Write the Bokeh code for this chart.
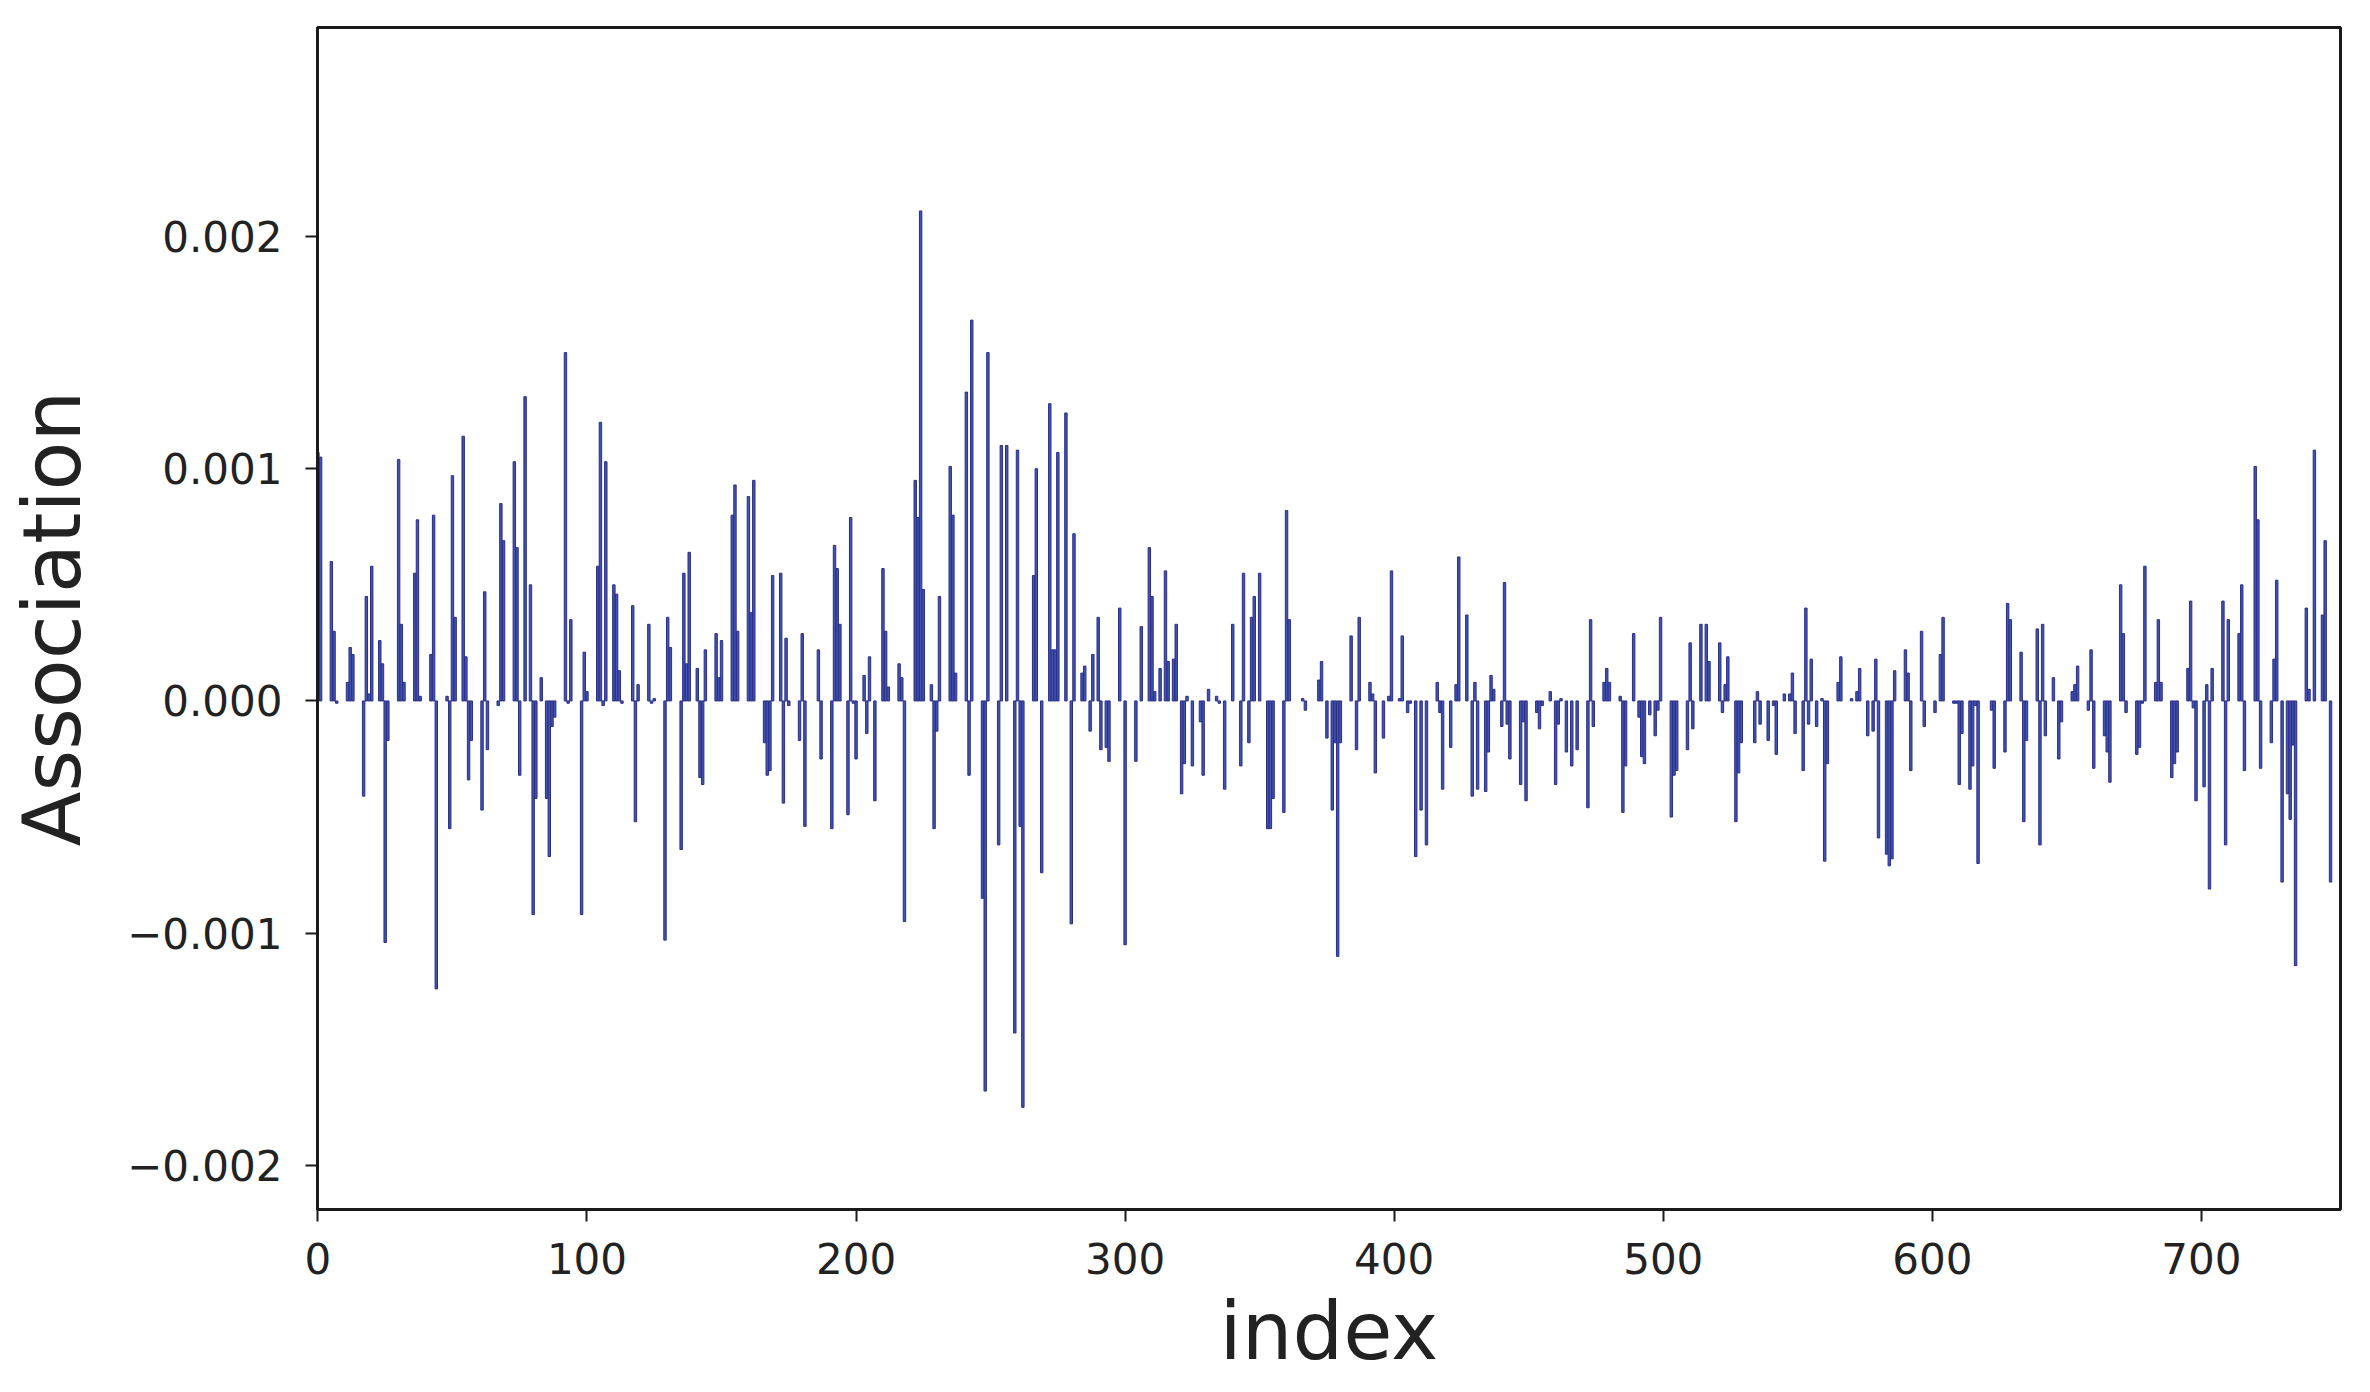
from bokeh.plotting import figure
from bokeh.models import Range1d, FixedTicker, CustomJSTickFormatter
from bokeh.embed import file_html
from bokeh.resources import INLINE

# index of each visible bar and its association value
bar_index = [
    0, 1, 5, 6, 7, 11, 12, 13, 17, 18, 19, 20, 23, 24, 25, 26, 30, 31, 32, 36, 37, 38,
    42, 43, 44, 48, 49, 50, 51, 54, 55, 56, 57, 61, 62, 63, 67, 68, 69, 73, 74, 75, 77,
    79, 80, 81, 83, 85, 86, 87, 88, 92, 93, 94, 98, 99, 100, 104, 105, 106, 107, 110,
    111, 112, 113, 117, 118, 119, 123, 124, 125, 129, 130, 131, 135, 136, 137, 138, 141,
    142, 143, 144, 148, 149, 150, 154, 155, 156, 160, 161, 162, 166, 167, 168, 169, 172,
    173, 174, 175, 179, 180, 181, 186, 187, 191, 192, 193, 194, 197, 198, 199, 200, 203,
    204, 205, 207, 210, 211, 212, 216, 217, 218, 222, 223, 224, 225, 228, 229, 230, 231,
    235, 236, 237, 241, 242, 243, 247, 248, 249, 253, 254, 256, 259, 260, 261, 262, 266,
    267, 269, 272, 273, 274, 275, 278, 280, 281, 284, 285, 287, 288, 290, 291, 293, 294,
    298, 300, 304, 306, 309, 310, 311, 313, 315, 316, 318, 319, 321, 322, 323, 325, 328,
    329, 331, 334, 335, 337, 340, 343, 344, 346, 347, 348, 350, 353, 354, 355, 359, 360,
    361, 366, 367, 372, 373, 375, 377, 378, 379, 380, 384, 386, 387, 391, 392, 393, 396,
    398, 399, 402, 403, 405, 406, 408, 410, 412, 416, 417, 418, 421, 423, 424, 427, 429,
    430, 431, 434, 435, 436, 437, 440, 441, 442, 443, 447, 448, 449, 453, 454, 455, 458,
    460, 461, 462, 464, 466, 468, 472, 473, 474, 478, 479, 480, 484, 485, 486, 489, 491,
    492, 493, 495, 497, 498, 499, 503, 504, 505, 509, 510, 511, 514, 516, 517, 521, 522,
    523, 524, 527, 528, 529, 534, 535, 536, 539, 541, 542, 545, 547, 548, 549, 552, 553,
    554, 555, 557, 559, 560, 561, 565, 566, 570, 572, 573, 576, 578, 579, 580, 583, 584,
    585, 586, 590, 591, 592, 596, 597, 601, 603, 604, 608, 609, 610, 611, 614, 615, 616,
    617, 622, 623, 627, 628, 629, 633, 634, 635, 639, 640, 641, 642, 645, 647, 648, 652,
    653, 654, 658, 659, 660, 664, 665, 666, 670, 671, 672, 676, 677, 678, 679, 683, 684,
    685, 689, 690, 691, 695, 696, 697, 698, 701, 702, 703, 704, 708, 709, 710, 714, 715,
    716, 720, 721, 722, 726, 727, 728, 730, 732, 733, 734, 735, 739, 740, 742, 745, 746,
    748,
]
bar_value = [
    0.00107, 0.00105, 0.00060, 0.00030, -0.00001, 0.00008, 0.00023, 0.00020, -0.00041,
    0.00045, 0.00003, 0.00058, 0.00026, 0.00016, -0.00104, -0.00017, 0.00104, 0.00033,
    0.00008, 0.00055, 0.00078, 0.00002, 0.00020, 0.00080, -0.00124, 0.00002, -0.00055,
    0.00097, 0.00036, 0.00114, 0.00019, -0.00034, -0.00017, -0.00047, 0.00047, -0.00021,
    -0.00002, 0.00085, 0.00069, 0.00103, 0.00066, -0.00032, 0.00131, 0.00050, -0.00092,
    -0.00042, 0.00010, -0.00042, -0.00067, -0.00011, -0.00007, 0.00150, -0.00001, 0.00035,
    -0.00092, 0.00021, 0.00004, 0.00058, 0.00120, -0.00002, 0.00103, 0.00050, 0.00046,
    0.00013, -0.00001, 0.00041, -0.00052, 0.00007, 0.00033, -0.00001, 0.00001, -0.00103,
    0.00036, 0.00023, -0.00064, 0.00055, 0.00016, 0.00064, 0.00014, -0.00033, -0.00036,
    0.00022, 0.00029, 0.00010, 0.00026, 0.00080, 0.00093, 0.00030, 0.00088, 0.00038,
    0.00095, -0.00018, -0.00032, -0.00030, 0.00054, 0.00055, -0.00044, 0.00027, -0.00002,
    -0.00017, 0.00029, -0.00054, 0.00022, -0.00025, -0.00055, 0.00067, 0.00057, 0.00033,
    -0.00049, 0.00079, -0.00001, -0.00025, 0.00011, -0.00014, 0.00019, -0.00043, 0.00057,
    0.00030, 0.00006, 0.00016, 0.00010, -0.00095, 0.00095, 0.00079, 0.00211, 0.00048,
    0.00007, -0.00055, -0.00013, 0.00045, 0.00101, 0.00080, 0.00012, 0.00133, -0.00032,
    0.00164, -0.00085, -0.00168, 0.00150, -0.00062, 0.00110, 0.00110, -0.00143, 0.00108,
    -0.00054, -0.00175, 0.00054, 0.00100, -0.00074, 0.00128, 0.00022, 0.00022, 0.00107,
    0.00124, -0.00096, 0.00072, 0.00012, 0.00015, -0.00013, 0.00020, 0.00036, -0.00021,
    -0.00020, -0.00026, 0.00040, -0.00105, -0.00026, 0.00032, 0.00066, 0.00045, 0.00004,
    0.00014, 0.00056, 0.00017, 0.00018, 0.00033, -0.00040, -0.00027, 0.00002, -0.00028,
    -0.00009, -0.00032, 0.00005, 0.00002, -0.00001, -0.00038, 0.00033, -0.00028, 0.00055,
    -0.00018, 0.00036, 0.00045, 0.00055, -0.00055, -0.00055, -0.00042, -0.00048, 0.00082,
    0.00035, 0.00001, -0.00004, 0.00009, 0.00017, -0.00016, -0.00047, -0.00018, -0.00110,
    -0.00018, 0.00028, -0.00021, 0.00036, 0.00008, 0.00003, -0.00031, -0.00016, 0.00002,
    0.00056, 0.00001, 0.00028, -0.00005, -0.00001, -0.00067, -0.00047, -0.00062, 0.00008,
    -0.00005, -0.00038, -0.00020, 0.00007, 0.00062, 0.00037, -0.00041, 0.00008, -0.00038,
    -0.00039, -0.00022, 0.00011, 0.00005, -0.00011, 0.00051, -0.00010, -0.00025, -0.00036,
    -0.00009, -0.00043, -0.00005, -0.00012, -0.00002, 0.00004, -0.00036, -0.00010, 0.00001,
    -0.00022, -0.00028, -0.00021, -0.00046, 0.00035, -0.00011, 0.00008, 0.00014, 0.00008,
    0.00002, -0.00048, -0.00028, 0.00029, -0.00007, -0.00024, -0.00027, -0.00006, -0.00015,
    -0.00004, 0.00036, -0.00050, -0.00032, -0.00030, -0.00021, 0.00025, -0.00012, 0.00033,
    0.00033, 0.00017, 0.00025, -0.00005, 0.00007, 0.00019, -0.00052, -0.00031, -0.00018,
    -0.00018, 0.00004, -0.00010, -0.00017, -0.00002, -0.00023, 0.00003, 0.00003, 0.00012,
    -0.00014, -0.00030, 0.00040, -0.00010, 0.00018, -0.00011, 0.00001, -0.00069, -0.00027,
    0.00008, 0.00019, 0.00001, 0.00004, 0.00014, -0.00015, -0.00013, 0.00018, -0.00059,
    -0.00066, -0.00071, -0.00068, 0.00013, 0.00022, 0.00012, -0.00030, 0.00030, -0.00011,
    -0.00005, 0.00020, 0.00036, -0.00001, -0.00001, -0.00036, -0.00014, -0.00038, -0.00028,
    -0.00002, -0.00070, -0.00004, -0.00029, -0.00022, 0.00042, 0.00035, 0.00021, -0.00052,
    -0.00017, 0.00031, -0.00062, 0.00033, -0.00015, 0.00010, -0.00025, -0.00009, 0.00004,
    0.00007, 0.00015, -0.00004, 0.00022, -0.00029, -0.00015, -0.00022, -0.00035, 0.00050,
    0.00029, -0.00005, -0.00023, -0.00020, -0.00001, 0.00058, 0.00008, 0.00035, 0.00008,
    -0.00033, -0.00027, -0.00022, 0.00014, 0.00043, -0.00003, -0.00043, -0.00037, 0.00007,
    -0.00081, 0.00014, 0.00043, -0.00062, 0.00035, 0.00029, 0.00050, -0.00030, 0.00101,
    0.00078, -0.00029, -0.00018, 0.00018, 0.00052, -0.00078, -0.00040, -0.00051, -0.00019,
    -0.00114, 0.00040, 0.00005, 0.00108, 0.00037, 0.00069, -0.00078,
]

y_ticks = [-0.002, -0.001, 0.0, 0.001, 0.002]
x_ticks = [0, 100, 200, 300, 400, 500, 600, 700]

FONT = "DejaVu Sans"

p = figure(
    width=2362, height=1384,
    output_backend="svg", toolbar_location=None,
    x_range=Range1d(-0.15, 751.7), y_range=Range1d(-0.00219, 0.0029),
    min_border_left=317, min_border_right=22, min_border_top=27, min_border_bottom=175,
)
p.background_fill_color = "white"
p.border_fill_color = "white"
p.outline_line_color = "#1a1a1a"
p.outline_line_width = 3
p.grid.visible = False

p.vbar(x=bar_index, top=bar_value, bottom=0, width=0.9,
       fill_color="#4254b0", line_color="#2a2e86", line_width=1)

for ax in (p.xaxis[0], p.yaxis[0]):
    ax.axis_line_color = "#1a1a1a"
    ax.axis_line_width = 3
    ax.major_tick_line_color = "#1a1a1a"
    ax.major_tick_line_width = 2
    ax.major_tick_out = 12
    ax.major_tick_in = 0
    ax.minor_tick_line_color = None
    ax.major_label_text_font = FONT
    ax.major_label_text_font_size = "42px"
    ax.major_label_text_color = "#222222"
    ax.axis_label_text_font = FONT
    ax.axis_label_text_font_size = "80px"
    ax.axis_label_text_font_style = "normal"
    ax.axis_label_text_color = "#222222"

p.xaxis.ticker = FixedTicker(ticks=x_ticks)
p.yaxis.ticker = FixedTicker(ticks=y_ticks)
p.yaxis.formatter = CustomJSTickFormatter(
    code="var s = tick.toFixed(3); return s.replace('-', '\\u2212');")
p.xaxis.axis_label = "index"
p.yaxis.axis_label = "Association"
p.xaxis.major_label_standoff = 21
p.yaxis.major_label_standoff = 23
p.xaxis.axis_label_standoff = 8
p.yaxis.axis_label_standoff = 25

open("out.html", "w").write(file_html(p, INLINE))
